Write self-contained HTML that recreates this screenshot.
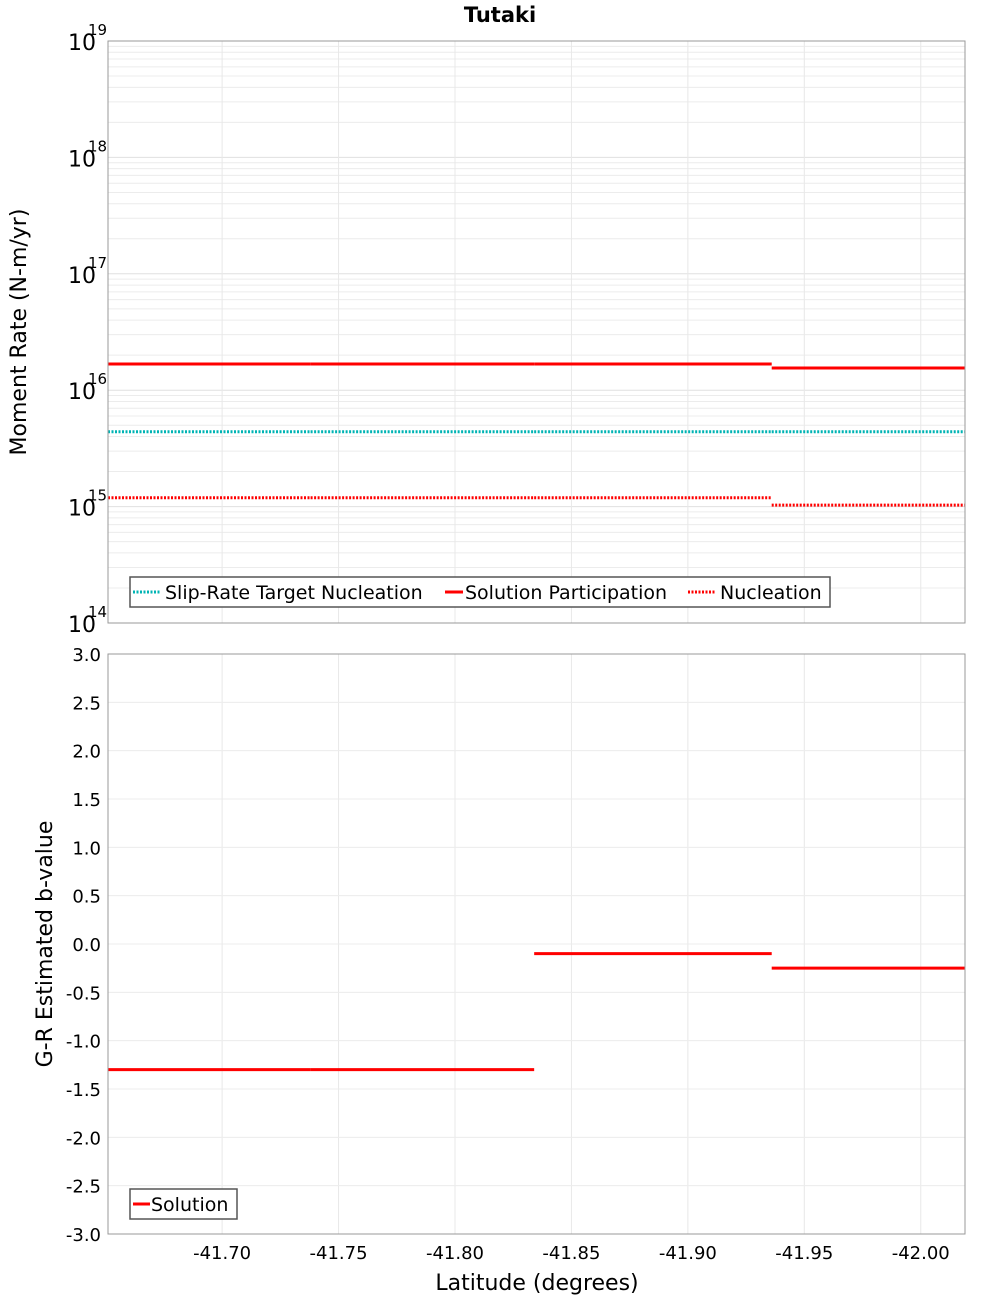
<!DOCTYPE html>
<html><head><meta charset="utf-8"><style>
body{margin:0;background:#fff;}
svg text{font-family:"DejaVu Sans","Liberation Sans",sans-serif;}
</style></head><body>
<svg id="c" width="1000" height="1300" xmlns="http://www.w3.org/2000/svg">
<text x="500" y="22" text-anchor="middle" font-size="21" font-weight="bold">Tutaki</text>
<g id="topg"></g><g id="botg"></g>
</svg>
<script>
const xTicks=[-41.70,-41.75,-41.80,-41.85,-41.90,-41.95,-42.00];
const segBounds=[-41.651,-41.738,-41.834,-41.936,-42.019];
const participation=[1.68e16,1.68e16,1.68e16,1.55e16];
const targetNucleation=[4.4e15,4.4e15,4.4e15,4.4e15];
const nucleation=[1.19e15,1.19e15,1.19e15,1.03e15];
const bValues=[-1.3,-1.3,-0.1,-0.25];
const bTicks=[3.0,2.5,2.0,1.5,1.0,0.5,0.0,-0.5,-1.0,-1.5,-2.0,-2.5,-3.0];
const decades=[14,15,16,17,18,19];

const NS="http://www.w3.org/2000/svg";
const L=108,R=965;
const X=v=>L+(v-(-41.651))/(-42.019-(-41.651))*(R-L);
const T0=41,T1=623,B0=654,B1=1234;
const YT=v=>T1-(Math.log10(v)-14)/5*(T1-T0);
const YB=v=>B1-(v+3)/6*(B1-B0);
function el(p,tag,a,txt){const e=document.createElementNS(NS,tag);for(const k in a)e.setAttribute(k,a[k]);if(txt!==undefined)e.textContent=txt;p.appendChild(e);return e;}
const topG=document.getElementById('topg'),botG=document.getElementById('botg');
for(let d=14;d<19;d++)for(let m=1;m<10;m++){const y=YT(m*Math.pow(10,d));
 const g=el(topG,'line',{x1:L,x2:R,y1:y,y2:y,stroke:m==1?'#e0e0e0':'#ececec','stroke-width':1});
 
 }
for(const t of xTicks){const x=X(t);
 const g=el(topG,'line',{x1:x,x2:x,y1:T0,y2:T1,stroke:'#e8e8e8'});
 
 
 const g2=el(botG,'line',{x1:x,x2:x,y1:B0,y2:B1,stroke:'#e8e8e8'});
 
 }
for(const d of decades){const y=YT(Math.pow(10,d));
 const t=el(topG,'text',{x:96,y:y+9,'text-anchor':'end','font-size':22},'10');
 
 
 const s=el(topG,'text',{x:88,y:y-6,'font-size':15},String(d));
 
 }
function steps(p,vals,yf,color,dash,name){for(let i=0;i<vals.length;i++){const a={x1:X(segBounds[i]),x2:X(segBounds[i+1]),y1:yf(vals[i]),y2:yf(vals[i]),stroke:color,'stroke-width':3};if(dash)a['stroke-dasharray']='2,1.5';
 const l=el(p,'line',a);
 
 }}
steps(topG,targetNucleation,YT,'#00b4b4',true,'target-nucleation-segment');
steps(topG,nucleation,YT,'#ff0000',true,'nucleation-segment');
steps(topG,participation,YT,'#ff0000',false,'participation-segment');
let fr=el(topG,'rect',{x:L,y:T0,width:R-L,height:T1-T0,fill:'none',stroke:'#999'});


let lg=el(topG,'g',{});


el(lg,'rect',{x:130,y:577,width:700,height:30,fill:'#fff',stroke:'#555','stroke-width':1.5});
el(lg,'line',{x1:133,x2:161,y1:592,y2:592,stroke:'#00b4b4','stroke-width':3,'stroke-dasharray':'2,1.5'});
el(lg,'text',{x:165,y:599,'font-size':19},'Slip-Rate Target Nucleation');
el(lg,'line',{x1:445,x2:463,y1:592,y2:592,stroke:'#ff0000','stroke-width':3});
el(lg,'text',{x:465,y:599,'font-size':19},'Solution Participation');
el(lg,'line',{x1:688,x2:716,y1:592,y2:592,stroke:'#ff0000','stroke-width':3,'stroke-dasharray':'2,1.5'});
el(lg,'text',{x:720,y:599,'font-size':19},'Nucleation');
let yl=el(topG,'text',{transform:'translate(26,332) rotate(-90)','text-anchor':'middle','font-size':22},'Moment Rate (N-m/yr)');


for(const b of bTicks){const y=YB(b);
 const g=el(botG,'line',{x1:L,x2:R,y1:y,y2:y,stroke:'#ececec'});
 
 
 const t=el(botG,'text',{x:101,y:y+7,'text-anchor':'end','font-size':18},b.toFixed(1));
 
 }
steps(botG,bValues,YB,'#ff0000',false,'b-value-segment');
fr=el(botG,'rect',{x:L,y:B0,width:R-L,height:B1-B0,fill:'none',stroke:'#999'});


for(const t of xTicks){const l=el(botG,'text',{x:X(t),y:1259,'text-anchor':'middle','font-size':18},t.toFixed(2));
 
 }
lg=el(botG,'g',{});


el(lg,'rect',{x:130,y:1189,width:107,height:30,fill:'#fff',stroke:'#555','stroke-width':1.5});
el(lg,'line',{x1:133,x2:150,y1:1204,y2:1204,stroke:'#ff0000','stroke-width':3});
el(lg,'text',{x:151,y:1211,'font-size':19},'Solution');
yl=el(botG,'text',{transform:'translate(52,944) rotate(-90)','text-anchor':'middle','font-size':22},'G-R Estimated b-value');


const xl=el(botG,'text',{x:537,y:1290,'text-anchor':'middle','font-size':22},'Latitude (degrees)');


</script>
</body></html>
